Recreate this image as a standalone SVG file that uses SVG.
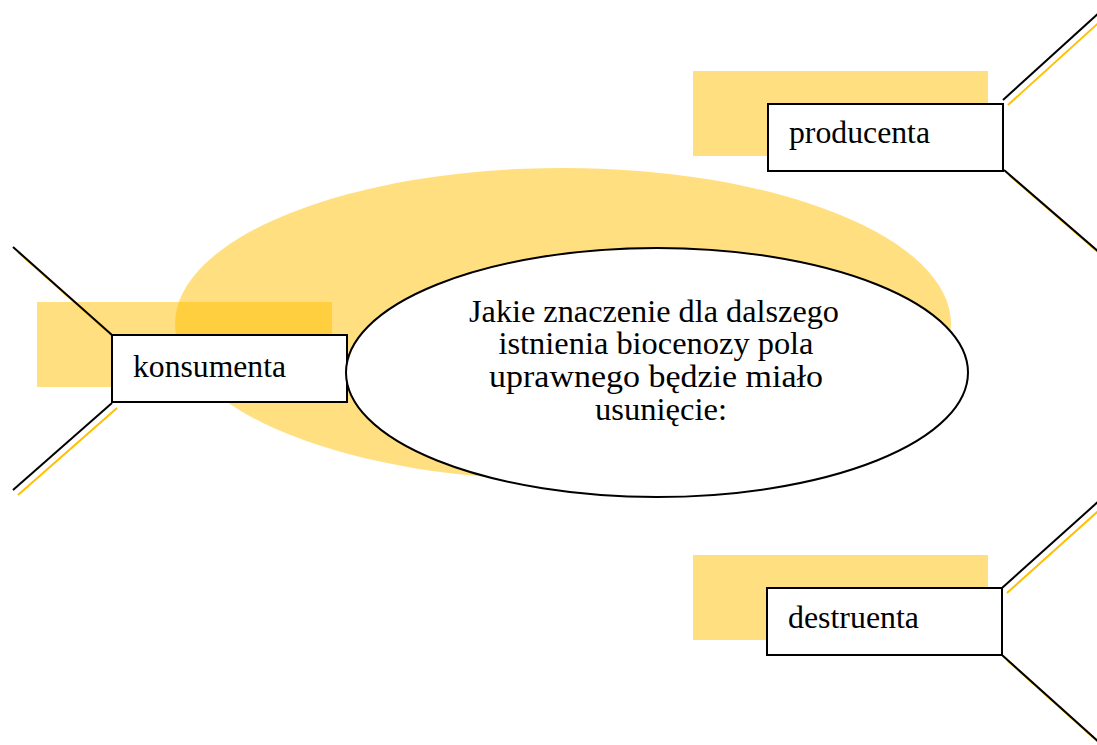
<svg xmlns="http://www.w3.org/2000/svg" width="1097" height="745" viewBox="0 0 1097 745">
<style>
.hl{fill:#FFC000;fill-opacity:0.5}
.box{fill:#FFFFFF;stroke:#000000;stroke-width:2}
.ln{stroke:#000000;stroke-width:2;fill:none}
.sh{stroke:#FFC000;stroke-width:2;fill:none}
</style>
<rect width="1097" height="745" fill="#FFFFFF"/>
<g id="background">
<ellipse class="hl" cx="563" cy="324" rx="388" ry="156"/>
</g>
<g id="connectors">
<line class="sh" x1="18" y1="252" x2="117" y2="340"/>
<line class="sh" x1="117" y1="408" x2="18" y2="495"/>
<line class="sh" x1="1008" y1="105" x2="1105" y2="17"/>
<line class="sh" x1="1009" y1="175" x2="1105" y2="258"/>
<line class="sh" x1="1007" y1="593" x2="1105" y2="505"/>
<line class="sh" x1="1007" y1="660" x2="1105" y2="748"/>
</g>
<g id="node-konsumenta">
<rect class="hl" x="37" y="302" width="295" height="85"/>
<rect class="box" x="112" y="335" width="235" height="67"/>
<text style="font-family:'Liberation Serif','Times New Roman',serif;font-size:32px" fill="#000000" x="133" y="376.5" textLength="153" lengthAdjust="spacingAndGlyphs">konsumenta</text>
</g>
<g id="node-producenta">
<rect class="hl" x="693" y="71" width="295" height="85"/>
<rect class="box" x="768" y="104" width="235" height="67"/>
<text style="font-family:'Liberation Serif','Times New Roman',serif;font-size:32px" fill="#000000" x="789" y="143" textLength="141" lengthAdjust="spacingAndGlyphs">producenta</text>
</g>
<g id="node-destruenta">
<rect class="hl" x="693" y="555" width="295" height="85"/>
<rect class="box" x="767" y="588" width="235" height="67"/>
<text style="font-family:'Liberation Serif','Times New Roman',serif;font-size:32px" fill="#000000" x="788" y="628" textLength="131" lengthAdjust="spacingAndGlyphs">destruenta</text>
</g>
<g id="node-center">
<ellipse cx="657" cy="372.5" rx="311" ry="124.5" fill="#FFFFFF" stroke="#000000" stroke-width="2"/>
<text style="font-family:'Liberation Serif','Times New Roman',serif;font-size:32px" fill="#000000" text-anchor="middle">
<tspan x="658" y="321.5" textLength="370" lengthAdjust="spacingAndGlyphs">Jakie znaczenie dla dalszego</tspan>
<tspan x="660" y="354.3" textLength="315" lengthAdjust="spacingAndGlyphs">istnienia biocenozy pola</tspan>
<tspan x="660" y="387" textLength="334" lengthAdjust="spacingAndGlyphs">uprawnego będzie miało</tspan>
<tspan x="661" y="420" textLength="132" lengthAdjust="spacingAndGlyphs">usunięcie:</tspan>
</text>
</g>
<g id="connectors-lines">
<line class="ln" x1="13" y1="247" x2="112" y2="335"/>
<line class="ln" x1="112" y1="403" x2="13" y2="490"/>
<line class="ln" x1="1003" y1="100" x2="1100" y2="12"/>
<line class="ln" x1="1004" y1="170" x2="1100" y2="253"/>
<line class="ln" x1="1002" y1="588" x2="1100" y2="500"/>
<line class="ln" x1="1002" y1="655" x2="1100" y2="743"/>
</g>
</svg>
